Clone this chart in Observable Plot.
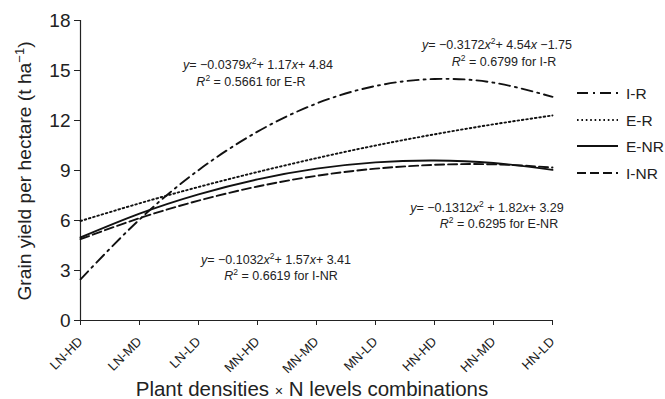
<!DOCTYPE html>
<html><head><meta charset="utf-8">
<script src="https://cdn.jsdelivr.net/npm/d3@7"></script>
<script src="https://cdn.jsdelivr.net/npm/@observablehq/plot@0.6"></script>
<style>body{margin:0;background:#fff;} svg{display:block;}</style>
</head><body><div id="chart"></div>
<script>
const categories = ["LN-HD","LN-MD","LN-LD","MN-HD","MN-MD","MN-LD","HN-HD","HN-MD","HN-LD"];
const positions = [1,2,3,4,5,6,7,8,9];
const yTicks = [0,3,6,9,12,15,18];
const seriesNames = ["I-R","E-R","E-NR","I-NR"];
const valuesIR  = [2.47, 6.06, 9.02, 11.33, 13.02, 14.07, 14.49, 14.27, 13.42];
const valuesER  = [5.97, 7.03, 8.01, 8.91, 9.74, 10.50, 11.17, 11.77, 12.30];
const valuesENR = [4.98, 6.41, 7.57, 8.47, 9.11, 9.49, 9.60, 9.45, 9.04];
const valuesINR = [4.88, 6.14, 7.19, 8.04, 8.68, 9.11, 9.34, 9.37, 9.18];

const dashes = {"I-R":"11,5,2,5", "E-R":"1.6,2.8", "E-NR":null, "I-NR":"9,4"};
const seriesValues = {"I-R":valuesIR, "E-R":valuesER, "E-NR":valuesENR, "I-NR":valuesINR};
const toRows = name => positions.map((p,i)=>({x:p, y:seriesValues[name][i], s:name}));

const font = "'Liberation Sans', Arial, Helvetica, sans-serif";
const lineMarks = seriesNames.map(name => Plot.line(toRows(name), {
  x:"x", y:"y", curve:"natural", stroke:"#111", strokeWidth:1.9,
  strokeDasharray: dashes[name] || undefined
}));

const plot = Plot.plot({
  width:665, height:399,
  marginLeft:80, marginRight:113, marginTop:20, marginBottom:79,
  x:{domain:[1,9]},
  y:{domain:[0,18]},
  style:{fontFamily:font, color:"#222", background:"#fff"},
  marks:[
    Plot.axisY({ticks:yTicks, tickSize:6, tickPadding:4, fontSize:19, label:null}),
    Plot.axisX({ticks:positions, tickFormat:d=>categories[d-1], tickRotate:-45, tickSize:5, tickPadding:14, fontSize:13, label:null}),
    Plot.ruleX([1], {y1:0, y2:18, stroke:"#222", strokeWidth:1.2}),
    Plot.ruleY([0], {x1:1, x2:9, stroke:"#222", strokeWidth:1.2}),
    ...lineMarks
  ]
});
document.getElementById("chart").appendChild(plot);

const svg = d3.select(plot);

function rich(parent, x, y, segs, opts={}) {
  const size = opts.size || 12.5;
  const t = parent.append("text").attr("x", x).attr("y", y)
    .attr("font-family", font).attr("font-size", size)
    .attr("fill", "#222").attr("text-anchor", opts.anchor || "middle");
  if (opts.rotate) t.attr("transform", `rotate(${opts.rotate},${x},${y})`);
  segs.forEach(s => {
    const seg = typeof s === "string" ? {t:s} : s;
    const ts = t.append("tspan").text(seg.t);
    if (seg.i) ts.attr("font-style", "italic");
    if (seg.sup) ts.attr("baseline-shift", "super").attr("font-size", size * 0.68);
    if (seg.small) ts.attr("font-size", size * 0.7);
  });
  return t;
}

// equations
const g = svg.append("g");
rich(g, 258, 69, [{t:"y",i:true},"= −0.0379",{t:"x",i:true},{t:"2",sup:true},"+ 1.17",{t:"x",i:true},"+ 4.84"]);
rich(g, 251, 86, [{t:"R",i:true},{t:"2",sup:true}," = 0.5661 for E-R"]);
rich(g, 497, 49, [{t:"y",i:true},"= −0.3172",{t:"x",i:true},{t:"2",sup:true},"+ 4.54",{t:"x",i:true}," −1.75"]);
rich(g, 504, 66, [{t:"R",i:true},{t:"2",sup:true}," = 0.6799 for I-R"]);
rich(g, 487, 212, [{t:"y",i:true},"= −0.1312",{t:"x",i:true},{t:"2",sup:true}," + 1.82",{t:"x",i:true},"+ 3.29"]);
rich(g, 499, 228, [{t:"R",i:true},{t:"2",sup:true}," = 0.6295 for E-NR"]);
rich(g, 276, 264, [{t:"y",i:true},"= −0.1032",{t:"x",i:true},{t:"2",sup:true},"+ 1.57",{t:"x",i:true},"+ 3.41"]);
rich(g, 281, 280, [{t:"R",i:true},{t:"2",sup:true}," = 0.6619 for I-NR"]);

// axis titles
rich(g, 312, 396, ["Plant densities ",{t:"×",small:true}," N levels combinations"], {size:20.5});
rich(g, 31, 171, ["Grain yield per hectare (t ha",{t:"−1",sup:true},")"], {size:19.2, rotate:-90});

// legend
const lg = svg.append("g");
const legendY = [93, 120, 146, 173];
seriesNames.forEach((name, i) => {
  const y = legendY[i];
  const ln = lg.append("line").attr("x1", 577).attr("x2", 618).attr("y1", y).attr("y2", y)
    .attr("stroke", "#111").attr("stroke-width", 2);
  if (dashes[name]) ln.attr("stroke-dasharray", dashes[name]);
  lg.append("text").attr("x", 626).attr("y", y + 5.5).attr("font-family", font)
    .attr("text-anchor", "start")
    .attr("font-size", 15.5).attr("fill", "#222").text(name);
});
</script></body></html>
